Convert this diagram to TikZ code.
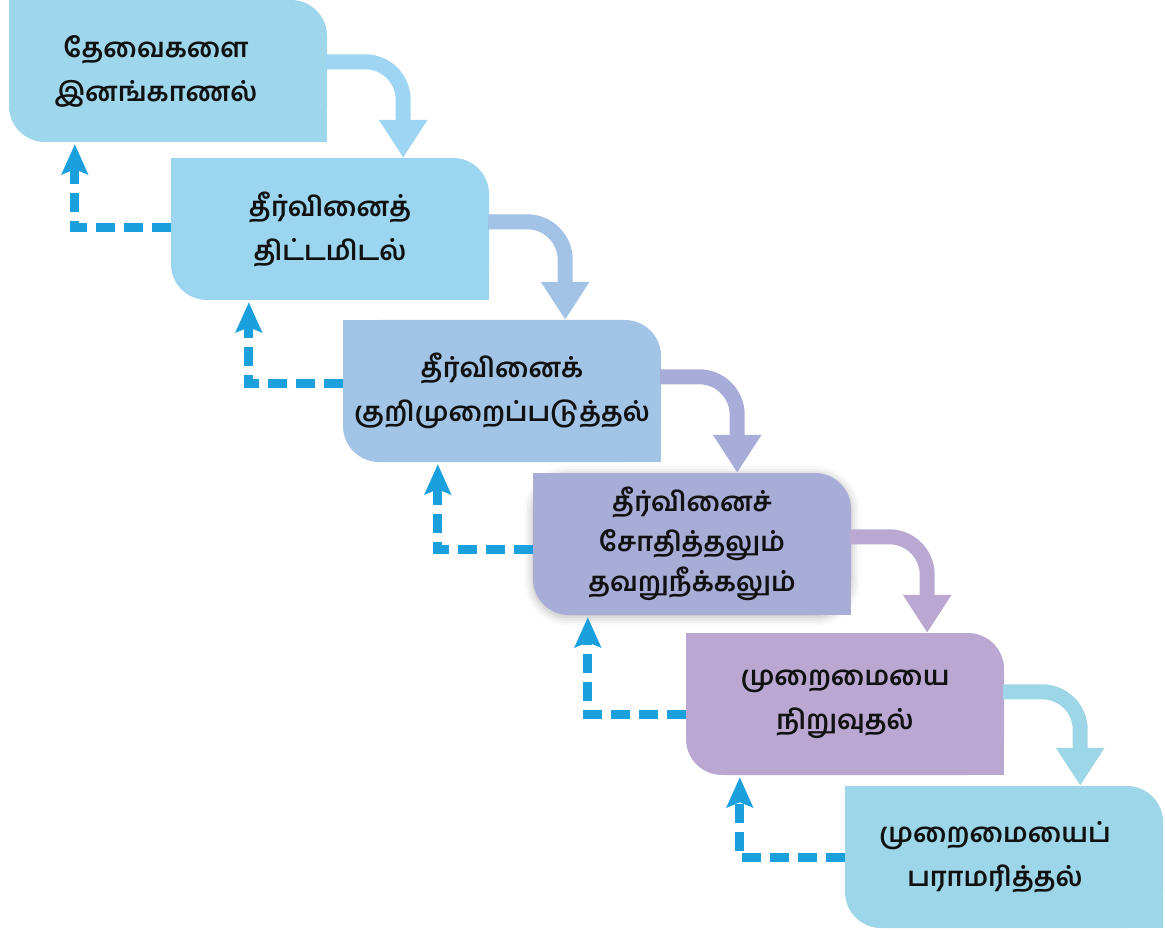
\documentclass[tikz,border=0pt]{standalone}
\usepackage{fontspec}
\newfontfamily\tamil[Script=Tamil]{Hind Madurai}
\usetikzlibrary{arrows.meta,shadows.blur,calc}
\definecolor{bxA}{HTML}{9ED7EC}
\definecolor{bxB}{HTML}{9BD5F0}
\definecolor{bxC}{HTML}{A2C4E6}
\definecolor{bxD}{HTML}{A8ADD8}
\definecolor{bxE}{HTML}{BAA8D2}
\definecolor{bxF}{HTML}{9DD6E8}
\definecolor{arA}{HTML}{9DD5F3}
\definecolor{arB}{HTML}{A2C2E6}
\definecolor{arC}{HTML}{A8ACD8}
\definecolor{arD}{HTML}{BAA8D3}
\definecolor{arE}{HTML}{9DD6E6}
\definecolor{fbc}{HTML}{1AA0DD}
\definecolor{txt}{HTML}{111111}
\begin{document}
\begin{tikzpicture}[x=1pt,y=-1pt,
  box/.style={rounded corners=36pt, minimum width=318pt, minimum height=142pt,
    inner sep=0pt, align=center, text=txt,
    font=\tamil\bfseries\fontsize{27}{44}\selectfont},
  corner/.style={draw=none},
  flow/.style={line width=15pt, rounded corners=38pt,
    -{Triangle[width=46pt,length=38pt]}},
  fb/.style={draw=fbc, line width=9pt, dash pattern=on 19pt off 9pt,
    -{Stealth[width=26pt,length=30pt,inset=5pt]}},
]
\useasboundingbox (0,0) rectangle (1165,933);

% boxes
\node[box, fill=bxA] (b1) at (168,71) {\hspace*{-24pt}தேவைகளை\\\hspace*{-24pt}இனங்காணல்};
\node[box, fill=bxB] (b2) at (330,229) {தீர்வினைத்\\திட்டமிடல்};
\node[box, fill=bxC] (b3) at (502,391) {தீர்வினைக்\\குறிமுறைப்படுத்தல்};
\node[box, fill=bxD, blur shadow={shadow xshift=0pt, shadow yshift=-2pt, shadow blur radius=9pt, shadow opacity=30},
  font=\tamil\bfseries\fontsize{27}{40}\selectfont] (b4) at (692,544) {தீர்வினைச்\\சோதித்தலும்\\தவறுநீக்கலும்};
\node[box, fill=bxE] (b5) at (845,704) {முறைமையை\\நிறுவுதல்};
\node[box, fill=bxF] (b6) at (1004,857) {\hspace*{-18pt}முறைமையைப்\\\hspace*{-18pt}பராமரித்தல்};

% sharp corners (top left, bottom right)
\foreach \b/\c in {b1/bxA,b2/bxB,b3/bxC,b4/bxD,b5/bxE,b6/bxF}{
  \fill[\c, corner] (\b.north west) rectangle ($(\b.north west)+(40,40)$);
  \fill[\c, corner] (\b.south east) rectangle ($(\b.south east)+(-40,-40)$);
}

% forward flow arrows
\coordinate (t1) at ($(b1.east |- b2.north)+(76,0)$);
\coordinate (t2) at ($(b2.east |- b3.north)+(76,0)$);
\coordinate (t3) at ($(b3.east |- b4.north)+(76,0)$);
\coordinate (t4) at ($(b4.east |- b5.north)+(76,0)$);
\coordinate (t5) at ($(b5.east |- b6.north)+(76,0)$);
\draw[flow, draw=arA] ($(b1.north east)+(-1,62)$) -| (t1);
\draw[flow, draw=arB] ($(b2.north east)+(-1,64)$) -| (t2);
\draw[flow, draw=arC] ($(b3.north east)+(-1,57)$) -| (t3);
\draw[flow, draw=arD] ($(b4.north east)+(-1,64)$) -| (t4);
\draw[flow, draw=arE] ($(b5.north east)+(-1,59)$) -| (t5);

% feedback arrows
\draw[fb] ($(b2.north west)+(0,70)$) -| ($(b1.south west)+(66,2)$);
\draw[fb] ($(b3.north west)+(0,64)$) -| ($(b2.south west)+(78,2)$);
\draw[fb] ($(b4.north west)+(0,77)$) -| ($(b3.south west)+(95,2)$);
\draw[fb] ($(b5.north west)+(0,82)$) -| ($(b4.south west)+(55,2)$);
\draw[fb] ($(b6.north west)+(0,72)$) -| ($(b5.south west)+(54,2)$);
\end{tikzpicture}
\end{document}
